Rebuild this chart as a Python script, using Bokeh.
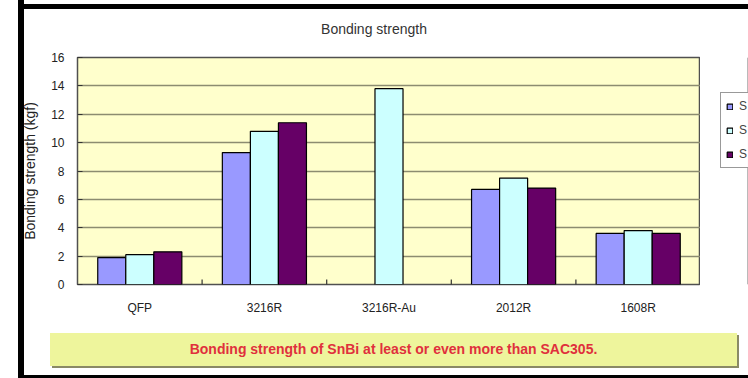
import math
from bokeh.plotting import figure
from bokeh.layouts import column, row
from bokeh.models import (ColumnDataSource, FactorRange, Legend, LegendItem, Div,
                          FixedTicker)
from bokeh.transform import dodge
from bokeh.embed import file_html
from bokeh.resources import INLINE

nan = float("nan")

# ---- data ----
categories = ["QFP", "3216R", "3216R-Au", "2012R", "1608R"]
legend_labels = ["S", "S", "S"]          # as visible (cut off) in the reference
series_1 = [1.9, 9.3, nan, 6.7, 3.6]
series_2 = [2.1, 10.8, 13.8, 7.5, 3.8]
series_3 = [2.3, 11.4, nan, 6.8, 3.6]
y_ticks = [0, 2, 4, 6, 8, 10, 12, 14, 16]
chart_title = "Bonding strength"
y_title = "Bonding strength (kgf)"
note_text = "Bonding strength of SnBi at least or even more than SAC305."

colors = ["#9999FF", "#CCFFFF", "#660066"]
FONT = "Liberation Sans"
BAR = "linear-gradient(black, black)"

src = ColumnDataSource(dict(cat=categories, s1=series_1, s2=series_2, s3=series_3))
bsrc = ColumnDataSource(dict(cat=categories[:-1], y=[0] * (len(categories) - 1)))

# ---- title strip ----
title_div = Div(
    text=(f'<div style="margin:0; padding:21px 0 0 42px; width:706px; line-height:16px; '
          f'text-align:center; font-family:\'{FONT}\'; font-size:14px; color:#333333;">'
          f'{chart_title}</div>'),
    width=748, height=45,
    styles={"background-color": "white",
            "background-image": f"{BAR}, {BAR}",
            "background-size": "6px 45px, 730px 5px",
            "background-position": "18px 0px, 18px 4px",
            "background-repeat": "no-repeat",
            "margin": "0", "padding": "0"})

# ---- chart ----
p = figure(width=700, height=280, x_range=FactorRange(*categories, range_padding=0),
           y_range=(0, 16), output_backend="svg", toolbar_location=None,
           min_border_left=77, min_border_right=0, min_border_top=12, min_border_bottom=41)

p.background_fill_color = "#FFFFCC"
p.border_fill_color = "white"
p.border_fill_alpha = 0
p.outline_line_color = "#505050"
p.outline_line_width = 1.5
p.styles = {"background-color": "white", "background-image": BAR,
            "background-size": "6px 280px", "background-position": "18px 0px",
            "background-repeat": "no-repeat"}

bar_w = 0.225
for i, (col, c) in enumerate(zip(["s1", "s2", "s3"], colors)):
    p.vbar(x=dodge("cat", (i - 1) * bar_w, range=p.x_range), top=col, width=bar_w,
           source=src, fill_color=c, line_color="black", line_width=1.2)

# category boundary tick marks
p.scatter(x=dodge("cat", 0.5, range=p.x_range), y="y", source=bsrc, marker="dash",
          angle=math.pi / 2, size=10, line_color="#333333", line_width=1.2)

# grid
p.xgrid.grid_line_color = None
p.ygrid.ticker = FixedTicker(ticks=y_ticks)
p.ygrid.grid_line_color = "#8C8C70"
p.ygrid.grid_line_width = 1.5

# y axis
p.yaxis.ticker = FixedTicker(ticks=y_ticks)
p.yaxis.axis_line_color = None
p.yaxis.major_tick_in = 5
p.yaxis.major_tick_out = 0
p.yaxis.major_tick_line_color = "#333333"
p.yaxis.minor_tick_line_color = None
p.yaxis.major_label_standoff = 13
p.yaxis.major_label_text_font = FONT
p.yaxis.major_label_text_font_size = "12px"
p.yaxis.major_label_text_color = "#222222"
p.yaxis.axis_label = y_title
p.yaxis.axis_label_text_font = FONT
p.yaxis.axis_label_text_font_size = "14px"
p.yaxis.axis_label_text_font_style = "normal"
p.yaxis.axis_label_text_color = "#222222"
p.yaxis.axis_label_standoff = 10

# x axis
p.xaxis.axis_line_color = None
p.xaxis.major_tick_line_color = None
p.xaxis.major_tick_out = 0
p.xaxis.major_label_standoff = 16
p.xaxis.major_label_text_font = FONT
p.xaxis.major_label_text_font_size = "12px"
p.xaxis.major_label_text_color = "#222222"

# ---- legend strip (own small figure, frame = whole canvas) ----
lf = figure(width=48, height=280, x_range=(0, 1), y_range=(0, 1),
            output_backend="svg", toolbar_location=None,
            x_axis_location=None, y_axis_location=None,
            min_border_left=0, min_border_right=0, min_border_top=0, min_border_bottom=0)
lf.xgrid.visible = False
lf.ygrid.visible = False
lf.outline_line_color = None
lf.background_fill_color = "white"
lf.border_fill_color = "white"

dummy = ColumnDataSource(dict(x=[10], top=[10]))
legend_renderers = [lf.vbar(x="x", top="top", width=0.1, source=dummy, fill_color=c,
                            line_color="black", line_width=1.2) for c in colors]

legend = Legend(items=[LegendItem(label=n, renderers=[r])
                       for n, r in zip(legend_labels, legend_renderers)],
                location=(20, 116), orientation="vertical",
                glyph_width=7, glyph_height=7, label_height=16, label_width=8,
                spacing=8, padding=5, label_standoff=6, margin=0,
                label_text_font=FONT, label_text_font_size="12px",
                border_line_color="#333333", border_line_width=1.5,
                background_fill_color="white")
lf.add_layout(legend, "center")

# ---- call-out note strip ----
note_div = Div(
    text=(f'<div style="margin:8px 0 0 50px; padding:0; width:687px; height:33px; '
          f'line-height:33px; text-align:center; background:#EEF59C; '
          f'box-shadow:2px 2px 0 #8A8A66; font-family:\'{FONT}\'; font-size:14px; '
          f'font-weight:bold; color:#E0303C; white-space:nowrap;">{note_text}</div>'),
    width=748, height=53,
    styles={"background-color": "white",
            "background-image": f"{BAR}, {BAR}",
            "background-size": "6px 53px, 730px 3px",
            "background-position": "18px 0px, 18px 50px",
            "background-repeat": "no-repeat",
            "margin": "0", "padding": "0", "overflow": "hidden"})

layout = column(title_div, row(p, lf, spacing=0), note_div, spacing=0)

open("out.html", "w").write(file_html(layout, INLINE))
